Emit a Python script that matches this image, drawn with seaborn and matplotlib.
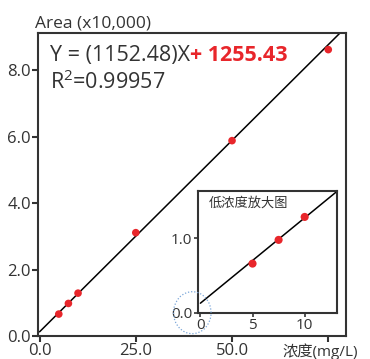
import numpy as np
import pandas as pd
import matplotlib
matplotlib.use("Agg")
import matplotlib.pyplot as plt
import seaborn as sns
from matplotlib.patches import Ellipse

# data
conc = [5, 7.5, 10, 25, 50, 75]                  # mg/L
area = [0.66, 0.98, 1.29, 3.11, 5.88, 8.62]      # x10,000
slope, intercept = 1152.48, 1255.43
r2 = 0.99957
main_xticks = [0, 25, 50, 75]
main_xlabels = ["0.0", "25.0", "50.0", ""]
main_yticks = [0, 2, 4, 6, 8]
main_ylabels = ["0.0", "2.0", "4.0", "6.0", "8.0"]
inset_xticks = [0, 5, 10]
inset_xlabels = ["0", "5", "10"]
inset_yticks = [0, 1]
inset_ylabels = ["0.0", "1.0"]
inset_n = 3  # low-concentration points shown in the zoom

sns.set_style("ticks")
plt.rcParams["font.family"] = ["Open Sans", "Noto Sans CJK SC", "DejaVu Sans"]
plt.rcParams["mathtext.fontset"] = "custom"
plt.rcParams["mathtext.rm"] = "Open Sans"
plt.rcParams["mathtext.it"] = "Open Sans"

TXT = "#333333"
RED = "#e8262b"

df = pd.DataFrame({"conc": conc, "area": area})
line_x = np.array([0, 80.0])
line = pd.DataFrame({"x": line_x, "y": (slope * line_x + intercept) / 10000})

fig = plt.figure(figsize=(3.70, 3.59), dpi=100)
ax = fig.add_axes([38 / 370, 1 - 336 / 359, 308 / 370, 303 / 359])

sns.lineplot(data=line, x="x", y="y", color="black", lw=1.1, ax=ax)
sns.scatterplot(data=df, x="conc", y="area", color=RED, s=30, edgecolor="none",
                zorder=3, ax=ax)
ax.set_xlim(-0.4, 79.6)
ax.set_ylim(0, 9.12)
ax.set_xticks(main_xticks, main_xlabels)
ax.set_yticks(main_yticks, main_ylabels)
ax.set_xlabel("")
ax.set_ylabel("")
ax.tick_params(length=4, width=1.5, color=TXT, labelcolor=TXT, labelsize=12, pad=1)
for sp in ax.spines.values():
    sp.set_visible(True)
    sp.set_linewidth(1.5)
    sp.set_color(TXT)

t1 = ax.text(50 / 370, 1 - 61 / 359, f"Y = ({slope:.2f})X", transform=fig.transFigure,
             fontsize=15.5, color=TXT, va="baseline", ha="left")
ax.annotate(f"+ {intercept:.2f}", xy=(1, 0), xycoords=t1, va="bottom", ha="left",
            fontsize=15.5, color=RED, fontweight="bold")
ax.text(50 / 370, 1 - 89 / 359, r"R$^{2}$" + f"={r2:.5f}", transform=fig.transFigure,
        fontsize=15.5, color=TXT, va="baseline", ha="left")

fig.text(35 / 370, 1 - 28 / 359, "Area (x10,000)", fontsize=12.5, color=TXT,
         va="baseline", ha="left")
fig.text(282 / 370, 1 - 352 / 359, "浓度(mg/L)", fontsize=11, color=TXT,
         va="center", ha="left")

# inset zoom on the low-concentration range
ins = fig.add_axes([198 / 370, 1 - 312.5 / 359, 139 / 370, 121.5 / 359])
sns.lineplot(data=line, x="x", y="y", color="black", lw=1.1, ax=ins)
sns.scatterplot(data=df.iloc[:inset_n], x="conc", y="area", color=RED, s=34,
                edgecolor="none", zorder=3, ax=ins)
ins.set_xlim(-0.23, 13.1)
ins.set_ylim(0, 1.64)
ins.set_xticks(inset_xticks, inset_xlabels)
ins.set_yticks(inset_yticks, inset_ylabels)
ins.set_xlabel("")
ins.set_ylabel("")
ins.tick_params(length=3, width=1.2, color=TXT, labelcolor=TXT, labelsize=11, pad=1)
for sp in ins.spines.values():
    sp.set_visible(True)
    sp.set_linewidth(1.5)
    sp.set_color(TXT)
ins.text(0.08, 0.9, "低浓度放大图", transform=ins.transAxes, fontsize=9.5,
         color=TXT, va="center", ha="left")

circ = Ellipse((192.3 / 370, 1 - 312.7 / 359), 37.5 / 370, 42 / 359,
               transform=fig.transFigure, fill=False, ec="#7aa6d9", lw=0.9,
               ls=(0, (1, 1.5)))
fig.add_artist(circ)

fig.savefig("out.png", dpi=100)
